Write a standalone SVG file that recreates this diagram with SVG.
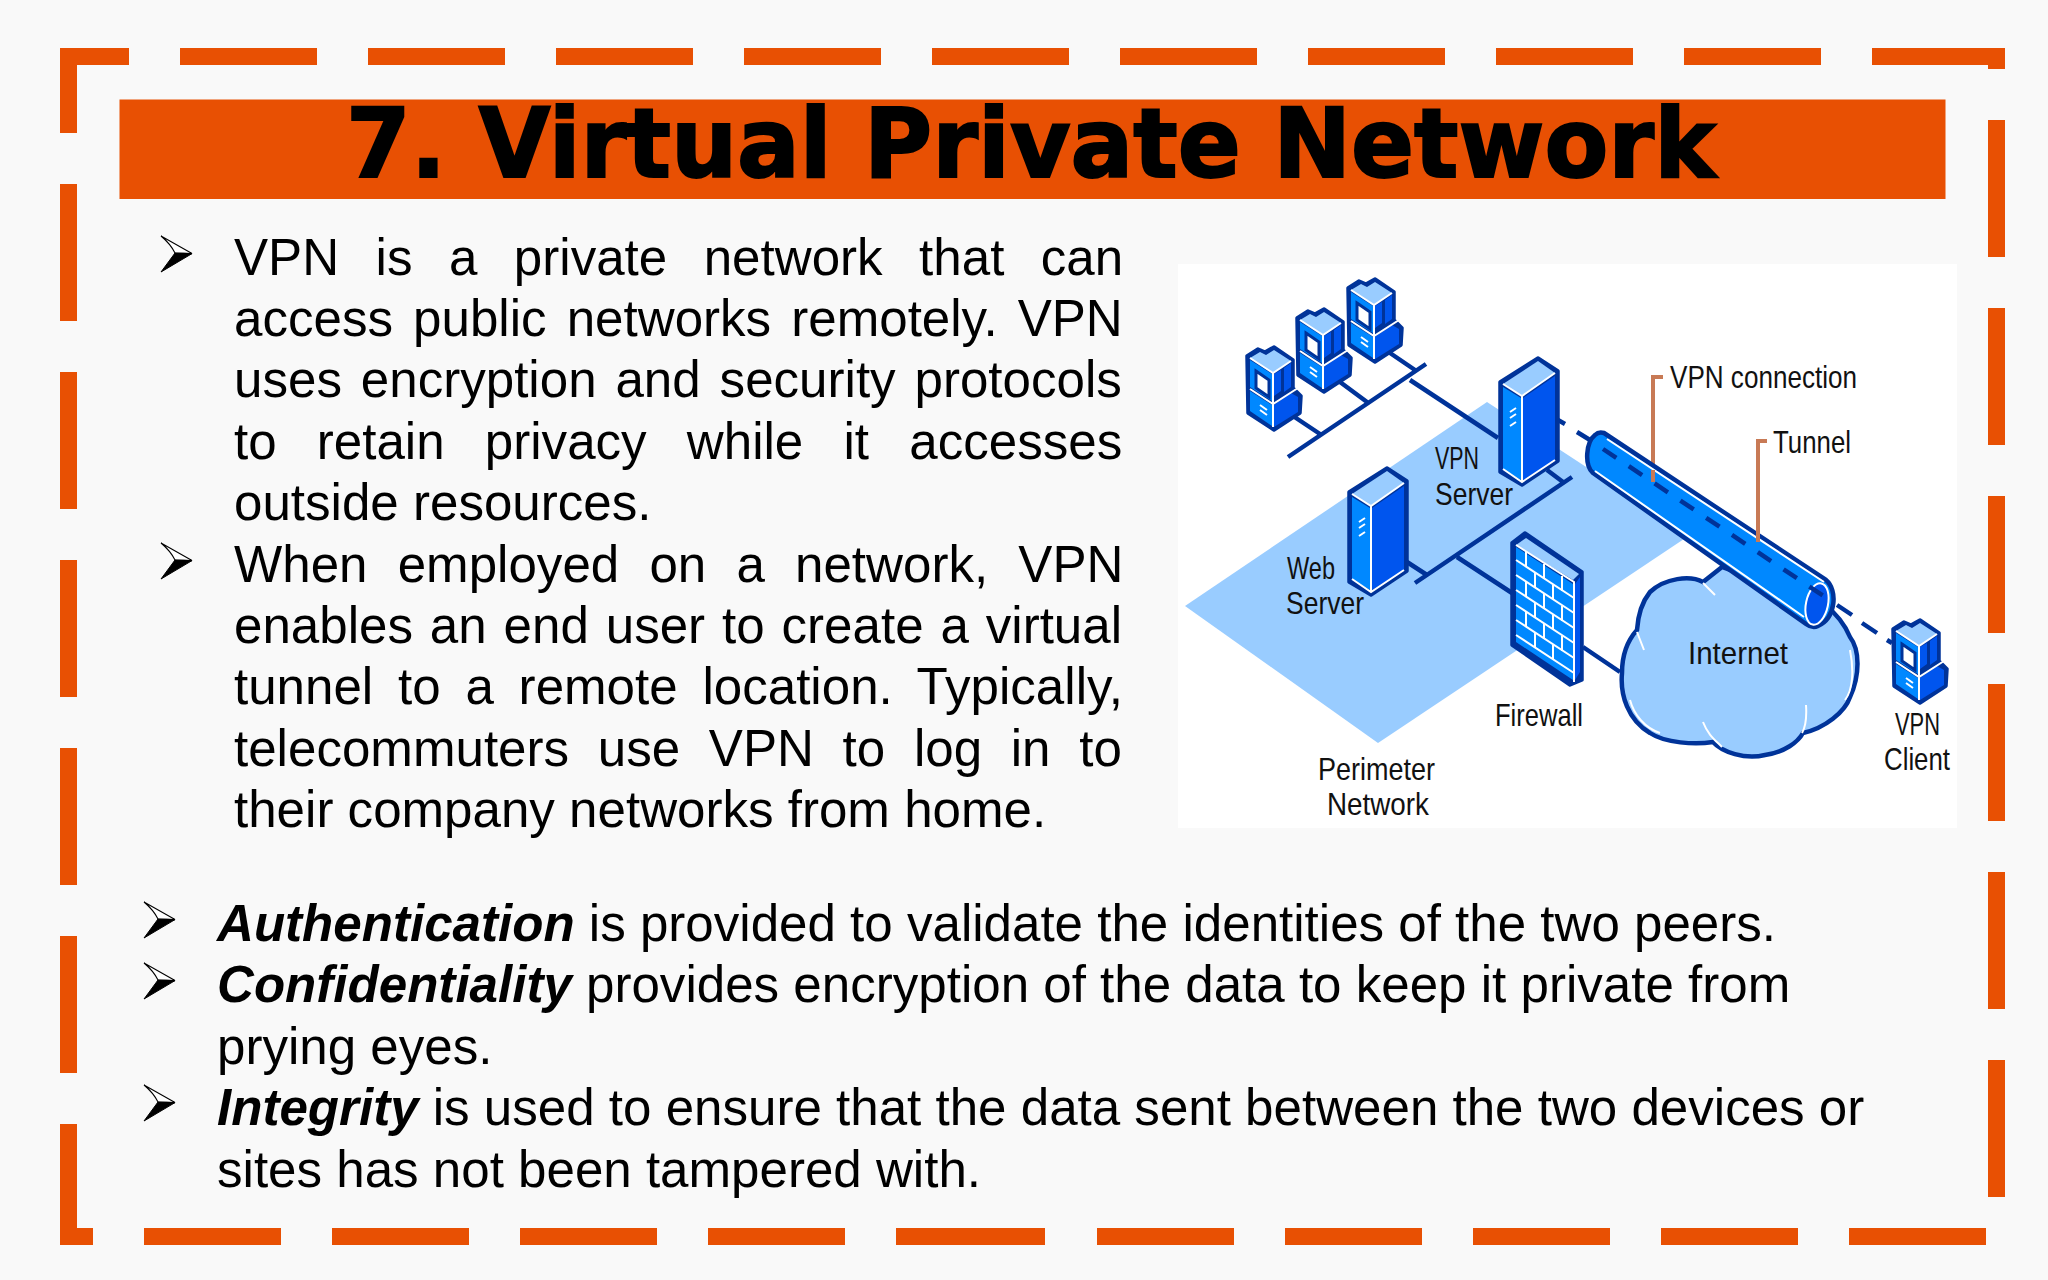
<svg xmlns="http://www.w3.org/2000/svg" xmlns:xlink="http://www.w3.org/1999/xlink" width="2048" height="1280" viewBox="0 0 2048 1280">
<style>
.o{fill:#E85003}
.t{font-family:"Liberation Sans",Arial,sans-serif;font-size:51.100px;fill:#000}
.b{font-weight:bold;font-style:italic}
.title{font-family:"DejaVu Sans",Verdana,sans-serif;font-weight:bold;font-size:96px;fill:#000;stroke:#000;stroke-width:2}
.l{font-family:"Liberation Sans",Arial,sans-serif;font-size:32px;fill:#111}
.d{stroke:#003399;stroke-width:4.500;fill:none}
.w{stroke:#fff;stroke-width:2;fill:none}
.lead{stroke:#C87A55;stroke-width:4;fill:none}
.lt{fill:#99CCFF}.mid{fill:#0088FF}.dk{fill:#0055EE}.ol{fill:#003399;stroke:#003399;stroke-width:3.500;stroke-linejoin:round}
</style>
<defs>
<g id="bullet">
<path d="M0 0 L31 17.6 L14 17 C11 11 6 5 0 0 Z" fill="#fff" stroke="#000" stroke-width="1.1"/>
<path d="M0 36 L14 17 L31 17.6 Z" fill="#000" stroke="#000" stroke-width="1"/>
</g>
<g id="computer">
<path class="ol" d="M0 9 L11 2 L18 5 L27 0 L46 13 L46 41 L54 49 L53 66 L27 83 L1 66 Z"/>
<path class="lt" d="M3 11 L13 5 L19 8 L27 3 L44 14 L26 26 Z"/>
<path class="mid" d="M3 13 L25 27 L25 54 L3 40 Z"/>
<path class="dk" d="M27 27 L34 23 L34 44 L27 49 Z M37 21 L44 16 L44 40 L37 45 Z"/>
<path class="mid" d="M3 44 L25 58 L25 79 L3 64 Z"/>
<path class="dk" d="M27 58 L44 46 L51 50 L51 65 L27 80 Z"/>
<path d="M9 24 L22 33 L22 50 L9 41 Z" fill="#fff" stroke="#003399" stroke-width="3"/>
<path class="w" d="M3 42 L26 57 L51 41 M26 26 L26 80 M3 11 L26 26 L44 14"/>
<path class="w" d="M13 58 L20 63 M13 63 L20 68"/>
</g>
<g id="server">
<path class="ol" d="M0 24 L38 0 L58 13 L58 103 L22 127 L0 114 Z"/>
<path class="lt" d="M3 26 L38 3 L55 15 L22 38 Z"/>
<path class="mid" d="M3 29 L21 40 L21 122 L3 111 Z"/>
<path class="dk" d="M23 40 L55 18 L55 102 L23 122 Z"/>
<path class="w" d="M3 26 L22 38 L55 15 M22 38 L22 124 M3 111 L22 124 L55 102"/>
<path class="w" d="M10 54 L16 50 M10 60 L16 56 M10 68 L16 64" stroke-width="1.6"/>
</g>
</defs>
<rect width="2048" height="1280" fill="#F9F9F9"/>
<g id="border" class="o">
<rect x="60" y="48" width="69" height="17"/><rect x="180" y="48" width="137" height="17"/><rect x="368" y="48" width="137" height="17"/><rect x="556" y="48" width="137" height="17"/><rect x="744" y="48" width="137" height="17"/><rect x="932" y="48" width="137" height="17"/><rect x="1120" y="48" width="137" height="17"/><rect x="1308" y="48" width="137" height="17"/><rect x="1496" y="48" width="137" height="17"/><rect x="1684" y="48" width="137" height="17"/><rect x="1872" y="48" width="133" height="17"/>
<rect x="1988" y="48" width="17" height="21"/>
<rect x="1988" y="120" width="17" height="137"/><rect x="1988" y="308" width="17" height="137"/><rect x="1988" y="496" width="17" height="137"/><rect x="1988" y="684" width="17" height="137"/><rect x="1988" y="872" width="17" height="137"/><rect x="1988" y="1060" width="17" height="137"/>
<rect x="60" y="48" width="17" height="85"/><rect x="60" y="184" width="17" height="137"/><rect x="60" y="372" width="17" height="137"/><rect x="60" y="560" width="17" height="137"/><rect x="60" y="748" width="17" height="137"/><rect x="60" y="936" width="17" height="137"/><rect x="60" y="1124" width="17" height="121"/>
<rect x="60" y="1228" width="33" height="17"/><rect x="144" y="1228" width="137" height="17"/><rect x="332" y="1228" width="137" height="17"/><rect x="520" y="1228" width="137" height="17"/><rect x="708" y="1228" width="137" height="17"/><rect x="896" y="1228" width="149" height="17"/><rect x="1097" y="1228" width="137" height="17"/><rect x="1285" y="1228" width="137" height="17"/><rect x="1473" y="1228" width="137" height="17"/><rect x="1661" y="1228" width="137" height="17"/><rect x="1849" y="1228" width="137" height="17"/>
</g>
<g id="title">
<rect class="o" x="119.500" y="99.500" width="1826" height="99.500"/>
<text class="title" x="346" y="177" textLength="1370" lengthAdjust="spacingAndGlyphs">7. Virtual Private Network</text>
</g>
<g id="body-top">
<use href="#bullet" x="161" y="236"/>
<use href="#bullet" x="161" y="543"/>
<text class="t" x="234" y="274.500" word-spacing="22.3">VPN is a private network that can</text>
<text class="t" x="234" y="335.900" word-spacing="5.9">access public networks remotely. VPN</text>
<text class="t" x="234" y="397.300" word-spacing="4.700">uses encryption and security protocols</text>
<text class="t" x="234" y="458.700" word-spacing="26">to retain privacy while it accesses</text>
<text class="t" x="234" y="520.100">outside resources.</text>
<text class="t" x="234" y="581.500" word-spacing="16">When employed on a network, VPN</text>
<text class="t" x="234" y="642.900" word-spacing="2.700">enables an end user to create a virtual</text>
<text class="t" x="234" y="704.300" word-spacing="10.600">tunnel to a remote location. Typically,</text>
<text class="t" x="234" y="765.700" word-spacing="14.500">telecommuters use VPN to log in to</text>
<text class="t" x="234" y="827.100">their company networks from home.</text>
</g>
<g id="body-bottom">
<use href="#bullet" x="144" y="902"/>
<use href="#bullet" x="144" y="963"/>
<use href="#bullet" x="144" y="1085"/>
<text class="t" x="217" y="940.900"><tspan class="b">Authentication</tspan> is provided to validate the identities of the two peers.</text>
<text class="t" x="217" y="1002.300"><tspan class="b">Confidentiality</tspan> provides encryption of the data to keep it private from</text>
<text class="t" x="217" y="1063.700">prying eyes.</text>
<text class="t" x="217" y="1125.100"><tspan class="b">Integrity</tspan> is used to ensure that the data sent between the two devices or</text>
<text class="t" x="217" y="1186.500">sites has not been tampered with.</text>
</g>
<g id="network-figure">
<rect x="1178" y="264" width="779" height="564" fill="#fff"/>
<polygon id="perimeter-zone" class="lt" points="1185,606 1487,402 1690,535 1378,743"/>
<g id="connectors">
<path class="d" d="M1288 457 L1426 364 M1293 416 L1320 434 M1340 382 L1367 402 M1390 353 L1415 370 M1410 380 L1498 438 M1415 583 L1572 477 M1547 470 L1563 482 M1407 562 L1427 575 M1457 557 L1512 593 M1583 647 L1620 672"/>
<path class="d" d="M1558 420 L1565 424 M1577 432 L1590 440 M1837 605 L1852 615 M1862 623 L1877 633 M1887 640 L1892 643"/>
<path class="lead" d="M1663 377 H1653 V482 M1767 441 H1758 V542"/>
</g>
<g id="computer-1"><use href="#computer" x="1247" y="347"/></g>
<g id="computer-2"><use href="#computer" x="1297" y="309"/></g>
<g id="computer-3"><use href="#computer" x="1348" y="279"/></g>
<g id="vpn-server"><use href="#server" x="1500" y="358"/></g>
<g id="web-server"><use href="#server" x="1349" y="468"/></g>
<g id="firewall">
<path class="ol" d="M1512 543 L1525 533 L1582 572 L1582 680 L1570 685 L1512 645 Z"/>
<path class="lt" d="M1516 545 L1526 538 L1579 574 L1573 580 Z"/>
<path class="mid" d="M1516 547 L1573 584 L1573 680 L1516 642 Z"/>
<path class="dk" d="M1575 584 L1580 577 L1580 672 L1575 680 Z"/>
<path class="w" d="M1516 545 L1574 582 L1574 682 M1516 560 L1574 598 M1516 575 L1574 613 M1516 590 L1574 628 M1516 605 L1574 643 M1516 620 L1574 658 M1516 635 L1574 673 M1526 552 V567 M1544 564 V579 M1562 576 V591 M1535 573 V588 M1553 585 V600 M1526 582 V597 M1544 594 V609 M1562 606 V621 M1535 603 V618 M1553 615 V630 M1526 612 V627 M1544 624 V639 M1562 636 V651 M1535 633 V648 M1553 645 V660"/>
</g>
<g id="internet">
<path class="lt" stroke="#003399" stroke-width="4.500" d="M1722 567 L1703 582 C1690 575 1665 578 1650 592 C1642 602 1638 615 1637 630 C1628 640 1622 655 1622 673 C1620 695 1628 720 1650 733 C1665 743 1695 745 1713 742 C1722 752 1745 760 1765 755 C1785 752 1798 742 1803 733 C1825 728 1845 712 1850 697 C1860 675 1860 650 1850 637 C1845 625 1838 615 1825 605 Z"/>
<path class="w" d="M1703 583 L1715 595 M1637 632 L1644 650 M1703 722 C1708 735 1715 740 1722 747 M1806 705 C1807 720 1805 728 1802 733 M1630 700 C1634 715 1645 728 1660 733 M1850 650 C1854 670 1853 690 1845 700"/>
</g>
<g id="tunnel">
<path class="mid" stroke="#003399" stroke-width="4.500" stroke-linejoin="round" d="M1604 433 L1826 580 C1838 590 1836 618 1818 626 C1814 628 1810 627 1806 624 L1593 473 C1584 465 1586 442 1595 435 C1598 432 1601 432 1604 433 Z"/>
<path class="w" d="M1607 439 L1824 582 M1595 471 L1804 617"/>
<ellipse class="dk" cx="1817" cy="604" rx="11" ry="21" transform="rotate(12 1817 604)" stroke="#fff" stroke-width="2"/>
<path class="d" stroke-width="5" stroke-dasharray="16 15" d="M1603 449 L1825 597"/>
<path class="lead" d="M1653 470 V482 M1758 530 V542"/>
</g>
<g id="vpn-client"><use href="#computer" x="1893" y="620"/></g>
<g id="labels">
<text class="l" x="1670" y="388" textLength="187" lengthAdjust="spacingAndGlyphs">VPN connection</text>
<text class="l" x="1773" y="453" textLength="78" lengthAdjust="spacingAndGlyphs">Tunnel</text>
<text class="l" x="1435" y="469" textLength="44" lengthAdjust="spacingAndGlyphs">VPN</text>
<text class="l" x="1435" y="505" textLength="78" lengthAdjust="spacingAndGlyphs">Server</text>
<text class="l" x="1287" y="579" textLength="48" lengthAdjust="spacingAndGlyphs">Web</text>
<text class="l" x="1286" y="614" textLength="78" lengthAdjust="spacingAndGlyphs">Server</text>
<text class="l" x="1318" y="780" textLength="117" lengthAdjust="spacingAndGlyphs">Perimeter</text>
<text class="l" x="1327" y="815" textLength="102" lengthAdjust="spacingAndGlyphs">Network</text>
<text class="l" x="1495" y="726" textLength="88" lengthAdjust="spacingAndGlyphs">Firewall</text>
<text class="l" x="1688" y="664" textLength="100" lengthAdjust="spacingAndGlyphs">Internet</text>
<text class="l" x="1895" y="735" textLength="45" lengthAdjust="spacingAndGlyphs">VPN</text>
<text class="l" x="1884" y="770" textLength="66" lengthAdjust="spacingAndGlyphs">Client</text>
</g>
</g>
</svg>
